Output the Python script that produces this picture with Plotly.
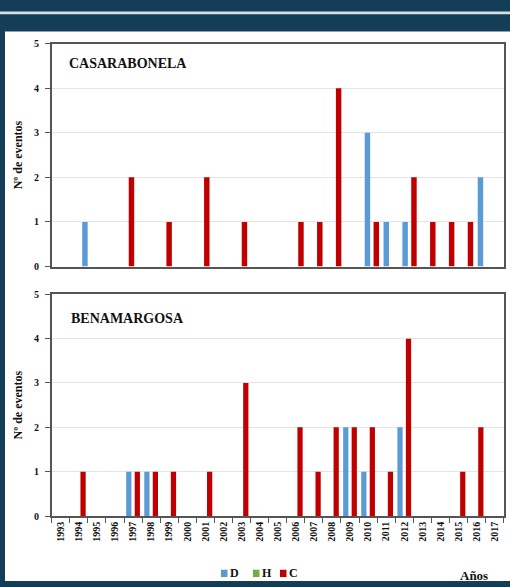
import plotly.graph_objects as go

years = [str(y) for y in range(1993, 2018)]

# CASARABONELA (top panel), events per year by type
casa_D = [0,0,1,0,0,0,0,0,0,0,0,0,0,0,0,0,0,3,1,1,0,0,0,2,0]
casa_H = [0]*25
casa_C = [0,0,0,0,2,0,1,0,2,0,1,0,0,1,1,4,0,1,0,2,1,1,1,0,0]

# BENAMARGOSA (bottom panel)
bena_D = [0,0,0,0,1,1,0,0,0,0,0,0,0,0,0,0,2,1,0,2,0,0,0,0,0]
bena_H = [0]*25
bena_C = [0,1,0,0,1,1,1,0,1,0,3,0,0,2,1,2,2,2,1,4,0,0,1,2,0]

y_ticks = [0, 1, 2, 3, 4, 5]
legend_names = ["D", "H", "C"]

COL_D = "#5B9BD5"
COL_H = "#70AD47"
COL_C = "#C00000"
FONT = "Liberation Serif"

W, H = 510, 587
fig = go.Figure()

bw = 0.29
offs = {"D": -0.235 - bw / 2, "H": -bw / 2, "C": 0.235 - bw / 2}
cols = {"D": COL_D, "H": COL_H, "C": COL_C}

for name, vals in (("D", casa_D), ("H", casa_H), ("C", casa_C)):
    fig.add_trace(go.Bar(x=years, y=vals, name=name, marker_color=cols[name],
                         marker_line_width=0, width=bw, offset=offs[name],
                         xaxis="x", yaxis="y", showlegend=False))
for name, vals in (("D", bena_D), ("H", bena_H), ("C", bena_C)):
    fig.add_trace(go.Bar(x=years, y=vals, name=name, marker_color=cols[name],
                         marker_line_width=0, width=bw, offset=offs[name],
                         xaxis="x2", yaxis="y2", showlegend=False))

xdom = [51.7 / W, 503.7 / W]
def py(p):
    return 1 - p / H

axis_line = dict(showline=True, linecolor="#555555", linewidth=1.5, mirror=True)
yaxis_common = dict(range=[0, 5], tickvals=y_ticks, ticks="outside", ticklen=5,
                    tickcolor="#555555", showgrid=True, gridcolor="#E4E4E4",
                    gridwidth=1, zeroline=False, ticklabelstandoff=4,
                    tickfont=dict(family=FONT, size=10, color="#111111", weight="bold"),
                    title=dict(text="Nº de eventos", standoff=9,
                               font=dict(family=FONT, size=12, color="#111111", weight="bold")),
                    **axis_line)

# legend drawn as colored squares + letters
shapes = [
    dict(type="rect", xref="paper", yref="paper", x0=5 / W, x1=1, y0=0, y1=py(26),
         fillcolor="white", line_width=0, layer="below"),
    dict(type="rect", xref="paper", yref="paper", x0=0, x1=1, y0=py(8.3), y1=py(5.7),
         fillcolor="#D5DEE5", line_width=0, layer="below"),
]
annotations = [
    dict(text="CASARABONELA", xref="paper", yref="paper", x=67 / W, y=py(59),
         xanchor="left", yanchor="middle", showarrow=False,
         font=dict(family=FONT, size=14, color="#111111", weight="bold")),
    dict(text="BENAMARGOSA", xref="paper", yref="paper", x=69 / W, y=py(319),
         xanchor="left", yanchor="middle", showarrow=False,
         font=dict(family=FONT, size=14, color="#111111", weight="bold")),
    dict(text="Años", xref="paper", yref="paper", x=474 / W, y=py(581),
         xanchor="center", yanchor="middle", showarrow=False,
         font=dict(family=FONT, size=13, color="#111111", weight="bold")),
]
leg_x = [221, 253, 280]
for lx, name in zip(leg_x, legend_names):
    shapes.append(dict(type="rect", xref="paper", yref="paper",
                       x0=lx / W, x1=(lx + 6.5) / W, y0=py(583), y1=py(575.5),
                       fillcolor=cols[name], line_width=0))
    annotations.append(dict(text=name, xref="paper", yref="paper", x=(lx + 7) / W,
                            y=py(579), xanchor="left", yanchor="middle", showarrow=False,
                            font=dict(family=FONT, size=12, color="#111111", weight="bold")))

fig.update_layout(
    width=W, height=H, margin=dict(l=0, r=0, t=0, b=0),
    paper_bgcolor="#143E57", plot_bgcolor="white",
    barmode="overlay", showlegend=False,
    xaxis=dict(domain=xdom, anchor="y", type="category", categoryarray=years,
               range=[0, 24], showticklabels=False, ticks="", showgrid=False, **axis_line),
    yaxis=dict(domain=[py(266), py(38.3)], anchor="x", **yaxis_common),
    xaxis2=dict(domain=xdom, anchor="y2", type="category", categoryarray=years,
                range=[-0.5, 24.5], tickangle=-90, ticks="outside", ticklen=5,
                tickson="boundaries", tickcolor="#555555", showgrid=False,
                tickfont=dict(family=FONT, size=10, color="#111111", weight="bold"),
                **axis_line),
    yaxis2=dict(domain=[py(520.7), py(294.3)], anchor="x2", **yaxis_common),
    shapes=shapes,
    annotations=annotations,
)

fig.write_html("out.html", config={"displayModeBar": False},
               post_script="document.body.style.margin='0';document.body.style.overflow='hidden';")
